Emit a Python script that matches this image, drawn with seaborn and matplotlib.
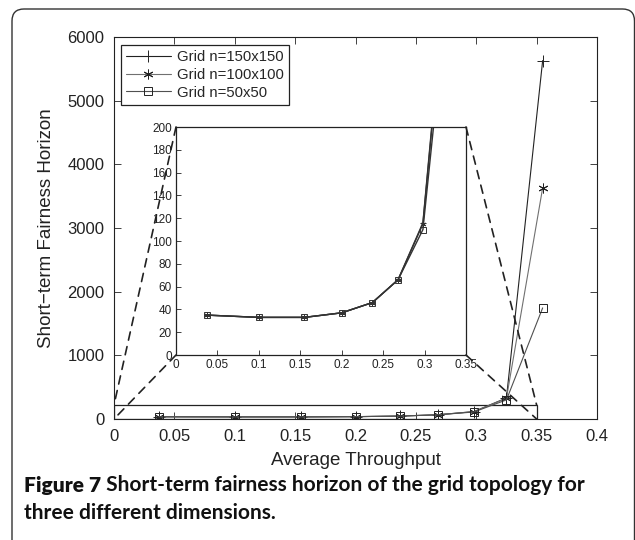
import numpy as np
import pandas as pd
import matplotlib
matplotlib.use('Agg')
import matplotlib.pyplot as plt
import seaborn as sns
from matplotlib.patches import Rectangle, FancyBboxPatch, ConnectionPatch
from matplotlib.ticker import FuncFormatter

# 데이터
throughput = [0.037, 0.1, 0.155, 0.2, 0.237, 0.268, 0.298, 0.325, 0.355]
horizon_150 = [35, 33, 33, 37, 46, 66, 116, 330, 5630]
horizon_100 = [35, 33, 33, 37, 46, 66, 115, 325, 3630]
horizon_50 = [35, 33, 33, 37, 46, 66, 110, 300, 1745]
labels = ['Grid n=150x150', 'Grid n=100x100', 'Grid n=50x50']

main_xticks = [0, 0.05, 0.1, 0.15, 0.2, 0.25, 0.3, 0.35, 0.4]
main_yticks = [0, 1000, 2000, 3000, 4000, 5000, 6000]
inset_xticks = [0, 0.05, 0.1, 0.15, 0.2, 0.25, 0.3, 0.35]
inset_yticks = [0, 20, 40, 60, 80, 100, 120, 140, 160, 180, 200]
zoom_box = (0, 0.35, 0, 220)

caption_bold = 'Figure 7'
caption_rest = ' Short-term fairness horizon of the grid topology for'
caption_line2 = 'three different dimensions.'

sns.set_style('ticks')
plt.rcParams['font.family'] = ['Liberation Sans', 'DejaVu Sans']
plt.rcParams['xtick.direction'] = 'in'
plt.rcParams['ytick.direction'] = 'in'

df = pd.DataFrame({'x': throughput * 3,
                   'y': horizon_150 + horizon_100 + horizon_50,
                   'grid': [labels[0]] * 9 + [labels[1]] * 9 + [labels[2]] * 9})

# 선 스타일
styles = {labels[0]: dict(marker='+', color='#222222', ms=8),
          labels[1]: dict(marker=(6, 2, 0), color='#707070', ms=7),
          labels[2]: dict(marker='s', color='#505050', ms=5.5)}

W, H = 635, 540
fig = plt.figure(figsize=(6.35, 5.4), dpi=100)

# 바깥 테두리 (둥근 모서리)
frame = FancyBboxPatch((0.12, -0.5), 6.225, 5.81,
                       boxstyle='round,pad=0,rounding_size=0.12',
                       transform=fig.dpi_scale_trans, fc='none', ec='#333333', lw=1.0)
fig.add_artist(frame)

ax = fig.add_axes([114 / W, 1 - 419 / H, (597 - 114) / W, (419 - 37) / H])
axins = fig.add_axes([176 / W, 1 - 355 / H, (466 - 176) / W, (355 - 127) / H])

fmt = FuncFormatter(lambda v, p: '%g' % v)

for name in labels:
    sub = df[df['grid'] == name]
    st = styles[name]
    sns.lineplot(data=sub, x='x', y='y', ax=ax, color=st['color'], lw=0.8,
                 marker=st['marker'], ms=st['ms'], mfc='none', mec='#222222', mew=0.7,
                 label=name)
    sns.lineplot(data=sub, x='x', y='y', ax=axins, color='#333333', lw=1.0,
                 marker=st['marker'], ms=4, mfc='none', mec='#333333', mew=0.7,
                 legend=False)

ax.set_xlim(0, 0.4)
ax.set_ylim(0, 6000)
ax.set_xticks(main_xticks)
ax.set_yticks(main_yticks)
ax.xaxis.set_major_formatter(fmt)
ax.tick_params(top=True, right=True, labelsize=12, length=5, width=0.6, pad=7, colors='#222222')
ax.set_xlabel('Average Throughput', fontsize=13.5, color='#222222')
ax.set_ylabel('Short\u2212term Fairness Horizon', fontsize=13.5, color='#222222')
ax.xaxis.set_label_coords(0.5, -0.108)
ax.xaxis.label.set_va('center')
ax.yaxis.set_label_coords(-0.139, 0.5)
ax.yaxis.label.set_va('center')
for s in ax.spines.values():
    s.set_linewidth(0.8)
    s.set_color('#222222')

leg = ax.legend(loc='upper left', bbox_to_anchor=(7 / 483, 1 - 8 / 382), borderaxespad=0,
                fontsize=10.7, handlelength=3.0, handletextpad=0.4, labelspacing=0.25,
                borderpad=0.35, fancybox=False, framealpha=1, edgecolor='#222222')
leg.get_frame().set_linewidth(0.9)

axins.set_xlim(0, 0.35)
axins.set_ylim(0, 200)
axins.set_xticks(inset_xticks)
axins.set_yticks(inset_yticks)
axins.xaxis.set_major_formatter(fmt)
axins.tick_params(labelsize=8.5, length=3.5, width=0.6, pad=3, colors='#222222')
axins.set_xlabel('')
axins.set_ylabel('')
axins.set_facecolor('white')
for s in axins.spines.values():
    s.set_linewidth(0.9)
    s.set_color('#222222')

# 확대 영역 표시
x0, x1, y0, y1 = zoom_box
ax.add_patch(Rectangle((x0, y0), x1 - x0, y1 - y0, fill=False, ec='#222222', lw=0.9, zorder=1))
pairs = [((0, 1), (x0, y1)), ((0, 0), (x0, y0)), ((1, 1), (x1, y1)), ((1, 0), (x1, y0))]
for pa, pb in pairs:
    con = ConnectionPatch(xyA=pa, coordsA=axins.transAxes, xyB=pb, coordsB=ax.transData,
                          ls=(0, (5, 4)), lw=1.2, color='#222222')
    fig.add_artist(con)

# 캡션
cap_font = ['Lato', 'DejaVu Sans']
cap_size = 15
t1 = fig.text(24 / W, 1 - 492 / H, caption_bold, fontsize=cap_size, weight='heavy',
              family=cap_font, va='baseline', color='#111111')
fig.add_artist(plt.Annotation(caption_rest, xy=(1, 0), xycoords=t1, fontsize=cap_size,
                              weight='bold', family=cap_font, va='bottom', color='#111111'))
fig.text(24 / W, 1 - 519 / H, caption_line2, fontsize=cap_size, weight='bold',
         family=cap_font, va='baseline', color='#111111')

fig.savefig('out.png', dpi=100)
